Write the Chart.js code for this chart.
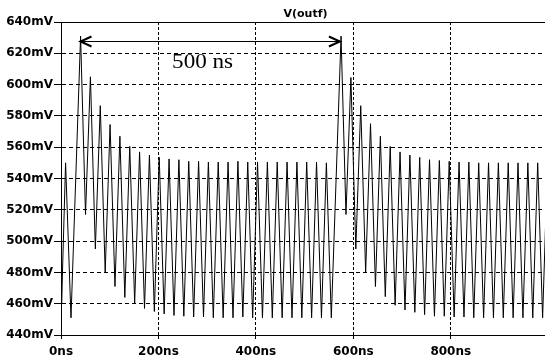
<!DOCTYPE html>
<html>
<head>
<meta charset="utf-8">
<script src="https://cdn.jsdelivr.net/npm/chart.js@4.4.1/dist/chart.umd.min.js"></script>
<style>
  html, body { margin: 0; padding: 0; background: #fff; overflow: hidden; }
  #wrap { width: 545px; height: 363px; }
</style>
</head>
<body>
<div id="wrap"><canvas id="chart" width="545" height="363"></canvas></div>
<script>
// V(outf) waveform (time in ns, level in mV)
const startTimes = [0];
const startMv = [484];

const peakTimes = [9.4,
    40.2, 60.4, 80.6, 100.7, 120.9, 141.1, 161.3, 181.5, 201.6, 221.8, 242.0, 262.2, 282.4,
    302.5, 322.7, 342.9, 363.1, 383.3, 403.4, 423.6, 443.8, 464.0, 484.2, 504.3, 524.5, 544.7,
    574.8, 595.0, 615.2, 635.3, 655.5, 675.7, 695.9, 716.1, 736.2, 756.4, 776.6, 796.8, 817.0,
    837.1, 857.3, 877.5, 897.7, 917.9, 938.0, 958.2, 978.4, 998.6];
const peakMv = [550,
    631, 605, 586.5, 574.5, 567, 560.5, 557, 555, 553.5, 552.5, 552, 551, 551,
    550.5, 550.5, 550.5, 551, 550.5, 550.5, 550.5, 550.5, 550.5, 550.5, 550.5, 550.5, 550,
    631, 604.5, 586.5, 575, 567, 560.5, 557, 555, 553.5, 552, 551.5, 551, 550.5,
    550.5, 550, 550, 550, 550, 550, 550, 550, 550];

const troughTimes = [1.2, 20.5,
    50.3, 70.5, 90.7, 110.8, 131.0, 151.2, 171.4, 191.6, 211.7, 231.9, 252.1, 272.3, 292.5,
    312.6, 332.8, 353.0, 373.2, 393.4, 413.5, 433.7, 453.9, 474.1, 494.3, 514.4, 534.6, 554.8,
    584.9, 605.1, 625.3, 645.4, 665.6, 685.8, 706.0, 726.2, 746.3, 766.5, 786.7, 806.9, 827.1,
    847.2, 867.4, 887.6, 907.8, 928.0, 948.1, 968.3, 988.5];
const troughMv = [460, 451,
    517, 495, 480, 471, 464, 460.5, 457, 455, 453.5, 452.5, 452, 451.5, 451.5,
    451, 451, 451, 451.5, 451, 451, 451, 451, 451, 451, 451, 451, 451,
    517, 495, 480, 471, 464.5, 459, 456, 454.5, 453, 452, 452, 451.5, 451.5,
    451, 451, 451, 451, 451, 451, 451, 451];

const xTicks = [0, 200, 400, 600, 800];
const yTicks = [640, 620, 600, 580, 560, 540, 520, 500, 480, 460, 440];

const traceTitle = 'V(outf)';
const spanText = '500 ns';
const spanFrom = 38;      // ns
const spanTo = 574.5;     // ns
const spanLevel = 627.6;  // mV
const spanTextAt = 228;   // ns
const spanTextLevel = 610.6; // mV

function buildTrace() {
    const pts = [];
    startTimes.forEach((t, i) => pts.push({x: t, y: startMv[i]}));
    peakTimes.forEach((t, i) => pts.push({x: t, y: peakMv[i]}));
    troughTimes.forEach((t, i) => pts.push({x: t, y: troughMv[i]}));
    return pts.sort((a, b) => a.x - b.x);
}

const overlay = {
    id: 'overlay',
    afterDraw(chart) {
        const {ctx, chartArea: a, scales: {x, y}} = chart;
        ctx.save();
        ctx.strokeStyle = '#000';
        ctx.fillStyle = '#000';

        // top frame line
        ctx.lineWidth = 1;
        ctx.beginPath();
        ctx.moveTo(a.left, a.top + 0.5);
        ctx.lineTo(a.right, a.top + 0.5);
        ctx.stroke();

        // trace name
        ctx.font = 'bold 11px "DejaVu Sans"';
        ctx.textAlign = 'center';
        ctx.textBaseline = 'middle';
        ctx.fillText(traceTitle, (a.left + a.right) / 2 + 2.5, a.top - 8);

        // double arrow between the two bursts
        const x1 = x.getPixelForValue(spanFrom);
        const x2 = x.getPixelForValue(spanTo);
        const yy = Math.round(y.getPixelForValue(spanLevel)) + 0.5;
        ctx.beginPath();
        ctx.moveTo(x1, yy);
        ctx.lineTo(x2, yy);
        ctx.stroke();
        ctx.lineWidth = 2;
        ctx.beginPath();
        ctx.moveTo(x1 + 12, yy - 5);
        ctx.lineTo(x1 + 1, yy);
        ctx.lineTo(x1 + 12, yy + 5);
        ctx.moveTo(x2 - 12, yy - 5);
        ctx.lineTo(x2 - 1, yy);
        ctx.lineTo(x2 - 12, yy + 5);
        ctx.stroke();

        // span label
        ctx.font = '21px "Liberation Serif"';
        ctx.textAlign = 'left';
        ctx.textBaseline = 'alphabetic';
        ctx.translate(x.getPixelForValue(spanTextAt), y.getPixelForValue(spanTextLevel));
        ctx.scale(1.1, 1);
        ctx.fillText(spanText, 0, 0);
        ctx.restore();
    }
};

Chart.defaults.font.family = '"DejaVu Sans"';
Chart.defaults.font.size = 12;
Chart.defaults.font.weight = 'bold';
Chart.defaults.color = '#000';

const config = {
    type: 'line',
    data: {
        datasets: [{
            data: buildTrace(),
            borderColor: '#000',
            borderWidth: 1,
            pointRadius: 0,
            tension: 0,
            fill: false
        }]
    },
    options: {
        responsive: false,
        animation: false,
        layout: { padding: { top: 22, right: 0, left: 0, bottom: 0 } },
        plugins: {
            legend: { display: false },
            tooltip: { enabled: false },
            title: { display: false }
        },
        scales: {
            x: {
                type: 'linear',
                min: 0,
                max: 993.4,
                afterBuildTicks: s => { s.ticks = xTicks.map(v => ({value: v})); },
                afterFit: s => { s.height = 28; },
                ticks: {
                    callback: v => v + 'ns',
                    padding: 4,
                    maxRotation: 0,
                    autoSkip: false
                },
                grid: {
                    color: c => (c.tick && c.tick.value === 0) ? 'rgba(0,0,0,0)' : '#000',
                    tickColor: '#000',
                    tickLength: 6,
                    tickBorderDash: [3, 2],
                    lineWidth: 1
                },
                border: { display: true, color: '#000', width: 1, dash: [3, 2] }
            },
            y: {
                min: 440,
                max: 640,
                afterBuildTicks: s => { s.ticks = yTicks.map(v => ({value: v})); },
                afterFit: s => { s.width = 61; },
                ticks: {
                    callback: v => v + 'mV',
                    padding: 1,
                    autoSkip: false
                },
                grid: {
                    color: c => (c.tick && (c.tick.value === 640 || c.tick.value === 440)) ? 'rgba(0,0,0,0)' : '#000',
                    tickColor: '#000',
                    tickLength: 7,
                    lineWidth: 1
                },
                border: { display: true, color: '#000', width: 1, dash: [4, 3] }
            }
        }
    },
    plugins: [overlay]
};

new Chart(document.getElementById('chart'), config);
</script>
</body>
</html>
